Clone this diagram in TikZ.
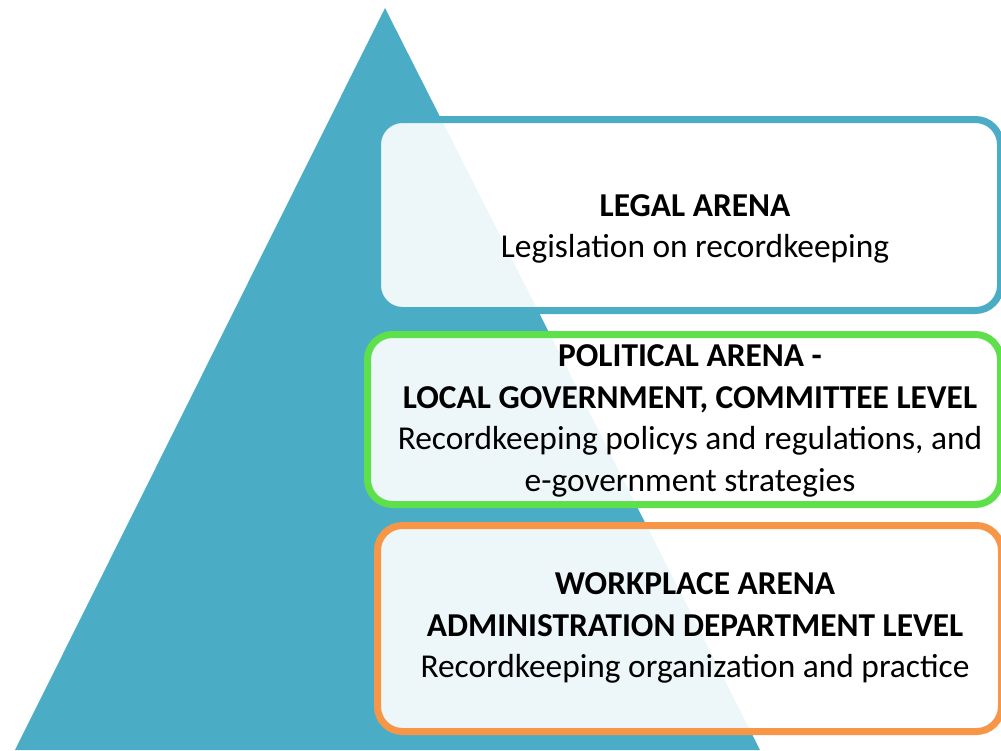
\documentclass[tikz,border=0pt]{standalone}
\usepackage{fontspec}
\setmainfont{Carlito}
\usepackage{xcolor}
\usetikzlibrary{positioning, backgrounds}
\definecolor{pyramidblue}{HTML}{4BACC6}
\definecolor{arenagreen}{HTML}{5EE04A}
\definecolor{arenaorange}{HTML}{F79646}

\begin{document}
\begin{tikzpicture}[x=0.03cm, y=-0.03cm,
    arena/.style={draw, line width=0.21cm, rounded corners=0.75cm, fill=white, fill opacity=0.9, text opacity=1, anchor=north west, inner sep=0pt},
    arenatext/.style={align=center, font=\fontsize{28.5}{35.5}\selectfont}]
  \useasboundingbox (0,0) rectangle (1001,750);
  \fill[pyramidblue] (385,8) -- (760,750) -- (15,750) -- cycle;
  \node[arena, draw=pyramidblue, minimum width=623*0.03cm, minimum height=191*0.03cm] (legal) at (374,116) {};
  \node[arena, draw=arenagreen, minimum width=633*0.03cm, minimum height=170*0.03cm] (political) at (364,331) {};
  \node[arena, draw=arenaorange, minimum width=624*0.03cm, minimum height=206*0.03cm] (workplace) at (374,522) {};
  \node[arenatext] (legaltext) at (695,229) {\textbf{LEGAL ARENA}\\Legislation on recordkeeping};
  \node[arenatext] (politicaltext) at (690,421) {\textbf{POLITICAL ARENA -}\\\textbf{LOCAL GOVERNMENT, COMMITTEE LEVEL}\\Recordkeeping policys and regulations, and\\e-government strategies};
  \node[arenatext] (workplacetext) at (695,628) {\textbf{WORKPLACE ARENA}\\\textbf{ADMINISTRATION DEPARTMENT LEVEL}\\Recordkeeping organization and practice};
\end{tikzpicture}
\end{document}
